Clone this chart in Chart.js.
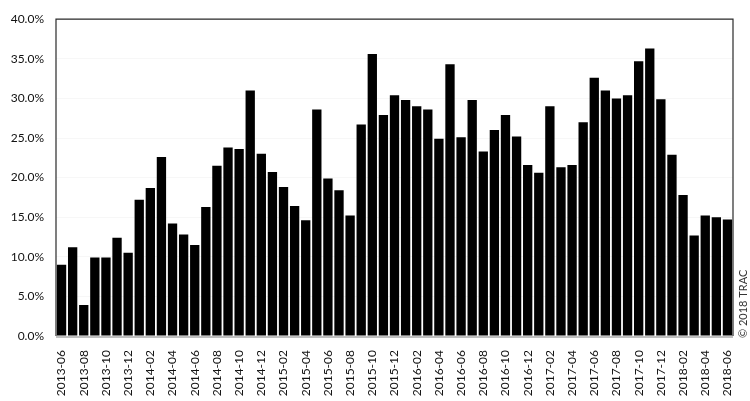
<!DOCTYPE html>
<html>
<head>
<meta charset="utf-8">
<script src="https://cdn.jsdelivr.net/npm/chart.js@4"></script>
<style>
  html, body { margin: 0; padding: 0; background: #fff; }
  #wrap { width: 750px; height: 401px; position: relative; }
</style>
</head>
<body>
<div id="wrap"><canvas id="c" width="750" height="401"></canvas></div>
<script>
const months = [
  "2013-06","2013-07","2013-08","2013-09","2013-10","2013-11","2013-12",
  "2014-01","2014-02","2014-03","2014-04","2014-05","2014-06","2014-07","2014-08","2014-09","2014-10","2014-11","2014-12",
  "2015-01","2015-02","2015-03","2015-04","2015-05","2015-06","2015-07","2015-08","2015-09","2015-10","2015-11","2015-12",
  "2016-01","2016-02","2016-03","2016-04","2016-05","2016-06","2016-07","2016-08","2016-09","2016-10","2016-11","2016-12",
  "2017-01","2017-02","2017-03","2017-04","2017-05","2017-06","2017-07","2017-08","2017-09","2017-10","2017-11","2017-12",
  "2018-01","2018-02","2018-03","2018-04","2018-05","2018-06"
];
const rates = [
  9.0, 11.2, 3.9, 9.9, 9.9, 12.4, 10.5,
  17.2, 18.7, 22.6, 14.2, 12.8, 11.5, 16.3, 21.5, 23.8, 23.6, 31.0, 23.0,
  20.7, 18.8, 16.4, 14.6, 28.6, 19.9, 18.4, 15.2, 26.7, 35.6, 27.9, 30.4,
  29.8, 29.0, 28.6, 24.9, 34.3, 25.1, 29.8, 23.3, 26.0, 27.9, 25.2, 21.6,
  20.6, 29.0, 21.3, 21.6, 27.0, 32.6, 31.0, 30.0, 30.4, 34.7, 36.3, 29.9,
  22.9, 17.8, 12.7, 15.2, 15.0, 14.7
];
const yTicks = [0, 5, 10, 15, 20, 25, 30, 35, 40];
const credit = "\u00A9 2018 TRAC";

const FONT = "Lato, 'Open Sans', sans-serif";

const framePlugin = {
  id: 'frame',
  afterDatasetsDraw(chart) {
    const { ctx, chartArea: a } = chart;
    ctx.save();
    ctx.strokeStyle = '#2a2a2a';
    ctx.lineWidth = 1.2;
    ctx.beginPath();
    ctx.moveTo(a.left, a.bottom);
    ctx.lineTo(a.left, a.top);
    ctx.lineTo(a.right, a.top);
    ctx.lineTo(a.right, a.bottom);
    ctx.stroke();
    ctx.strokeStyle = '#c0c0c0';
    ctx.lineWidth = 2;
    ctx.beginPath();
    ctx.moveTo(a.left, a.bottom + 1);
    ctx.lineTo(a.right, a.bottom + 1);
    ctx.stroke();
    // credit text
    ctx.translate(a.right + 10, a.bottom + 2);
    ctx.rotate(-Math.PI / 2);
    ctx.fillStyle = '#333';
    ctx.font = "11px " + FONT;
    ctx.textAlign = 'left';
    ctx.textBaseline = 'middle';
    ctx.fillText(credit, 0, 0);
    ctx.restore();
  }
};

new Chart(document.getElementById('c'), {
  type: 'bar',
  data: {
    labels: months,
    datasets: [{
      data: rates,
      backgroundColor: '#000',
      borderWidth: 0,
      barPercentage: 0.84,
      categoryPercentage: 1.0
    }]
  },
  options: {
    responsive: false,
    animation: false,
    devicePixelRatio: 1,
    layout: { padding: { left: 0, right: 17, top: 16, bottom: 0 } },
    plugins: { legend: { display: false }, tooltip: { enabled: false } },
    scales: {
      x: {
        grid: { display: false },
        border: { display: false },
        afterFit(scale) { scale.height = 65; },
        ticks: {
          autoSkip: false,
          maxRotation: 90,
          minRotation: 90,
          padding: 6,
          color: '#111',
          font: { family: FONT, size: 12 },
          callback(v, i) { return i % 2 === 0 ? months[i] : ''; }
        }
      },
      y: {
        min: 0,
        max: 40,
        afterFit(scale) { scale.width = 56; },
        afterBuildTicks(scale) { scale.ticks = yTicks.map(v => ({ value: v })); },
        grid: { color: 'rgba(0,0,0,0.03)', drawTicks: false },
        border: { display: false },
        ticks: {
          padding: 12,
          color: '#111',
          font: { family: FONT, size: 12 },
          callback(v) { return v.toFixed(1) + '%'; }
        }
      }
    }
  },
  plugins: [framePlugin]
});
</script>
</body>
</html>
